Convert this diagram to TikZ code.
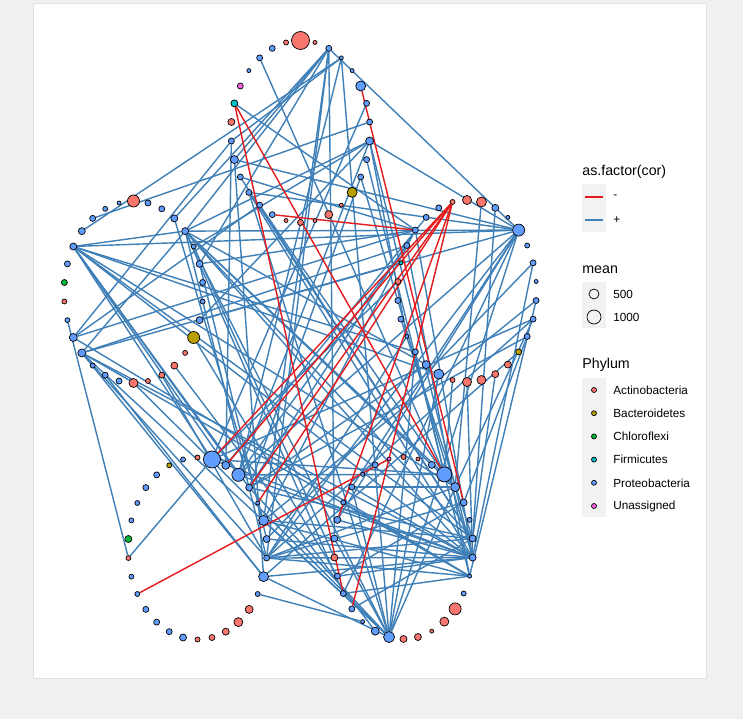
\documentclass[tikz,border=0pt]{standalone}
\usepackage{fontspec}
\setmainfont{Liberation Sans}
\usetikzlibrary{positioning}

\definecolor{colR}{HTML}{F8766D}
\definecolor{colY}{HTML}{B79F00}
\definecolor{colG}{HTML}{00BA38}
\definecolor{colT}{HTML}{00BFC4}
\definecolor{colB}{HTML}{619CFF}
\definecolor{colM}{HTML}{F564E3}
\definecolor{negline}{HTML}{E41A1C}
\definecolor{posline}{HTML}{3F80B8}
\definecolor{pagebg}{HTML}{F0F0F0}
\definecolor{keybg}{HTML}{F2F2F2}
\definecolor{panelline}{HTML}{E2E2E2}

\pgfdeclarelayer{back}
\pgfdeclarelayer{edges}
\pgfsetlayers{back,edges,main}

% one loop of 30 OTUs, k = 0 at the top, clockwise
\newcommand{\nodering}[4]{%
  \foreach \fc/\dm [count=\k from 0] in {#4}
    \node[otu, fill=col\fc, minimum size=\dm*0.02cm] (#1\k)
      at ({#2+69.5*cos(90-12*\k)},{#3-91*sin(90-12*\k)}) {};%
}

\begin{document}
\begin{tikzpicture}[x=0.02cm, y=-0.02cm,
  otu/.style={circle, draw=black, line width=0.4pt, inner sep=0pt},
  posedge/.style={draw=posline, line width=0.8pt},
  negedge/.style={draw=negline, line width=0.8pt},
  ttl/.style={font=\fontsize{8.1}{9}\selectfont, anchor=west, inner sep=0pt},
  lbl/.style={font=\fontsize{6.7}{8}\selectfont, anchor=west, inner sep=0pt}]
  \useasboundingbox (0,0) rectangle (743,719);
  \begin{pgfonlayer}{back}
    \fill[pagebg] (0,0) rectangle (743,719);
    \filldraw[fill=white, draw=panelline] (33,3) rectangle (706,678);
  \end{pgfonlayer}

  % the five loops
  \nodering{a}{300.5}{131.5}{R/18,R/4,B/6,B/4,B/4,B/10,B/6,B/6,B/8,B/6,B/6,Y/10,R/4,R/8,R/4,R/6,R/4,B/6,B/6,B/6,B/6,B/8,B/6,R/7,T/7,M/6,B/4,B/6,B/6,R/5}
  \nodering{b}{133.5}{292}{R/12,B/6,B/6,B/7,B/7,B/5,B/7,B/6,B/5,B/7,Y/12,R/5,R/7,R/6,R/5,R/9,B/6,B/6,B/5,B/8,B/8,B/5,R/5,G/6,B/6,B/7,B/7,B/6,B/5,B/4}
  \nodering{c}{467}{291}{R/9,R/10,B/7,B/4,B/12,B/5,B/6,B/4,B/6,B/6,B/6,Y/6,R/7,R/7,R/9,R/9,R/5,B/10,B/8,B/6,B/4,B/6,B/6,R/6,T/4,B/6,B/6,B/6,B/6,R/5}
  \nodering{d}{197.5}{548.5}{R/5,B/17,B/8,B/13,B/7,B/4,B/10,B/7,B/6,B/10,B/5,R/8,R/9,R/7,R/6,R/5,B/7,B/6,B/6,B/6,B/5,B/5,R/5,G/7,B/5,B/5,B/6,B/6,Y/5,B/5}
  \nodering{e}{403.5}{548}{R/5,R/4,B/7,B/15,B/9,B/7,B/5,B/7,B/7,B/4,B/5,R/12,R/9,R/4,R/7,R/7,B/11,B/8,B/4,B/6,B/6,B/6,R/7,B/7,B/7,B/5,B/6,B/4,B/6,M/4}

  \begin{pgfonlayer}{edges}
    % positive correlations
    \foreach \p/\q in {a2/b3, a2/b4, a2/b6, a2/d8, a2/d6, a2/c4, a2/a21, a2/e23,
      a3/b26, a3/a22, a3/d3, a3/e16,
      a8/b4, a8/b5, a8/c4, a8/e8, a8/d3, a8/b9, a8/c20,
      a9/e9, a10/d4, a10/c22, a19/e8, a19/e16, a19/c4, a20/e7, a20/c26,
      a21/c4, a21/d9, a22/d2, a22/b20, a18/e3, a18/e7, a27/e3, a24/c26, a7/b27, a6/d1,
      b25/c4, b25/b4, b25/d1, b25/d2, b25/d3, b25/d4, b25/c19, b25/c17, b25/e7, b25/e8, b25/e4,
      b19/b4, b19/c25, b19/c24, b19/d8, b19/e8, b19/e9, b19/d9, b19/e16,
      b21/d22, b20/a18, b20/c26, b20/e9,
      b4/c4, b4/e3, b4/e7, b4/e8, b4/e4, b4/e16, b4/d8, b4/c18, b4/e20,
      b3/d6, b5/e22, b6/d7, b6/c26, b9/c4, b10/e21, b15/e16, b13/d8, b17/d9, b12/e17,
      d22/d1, d1/c23, d1/e8, d1/c9, d2/c27,
      d3/c4, d3/c25, d3/e3, d3/e8, d4/c26, d4/c10, d4/e16, d4/e7,
      d6/e7, d6/e9, d6/c8, d6/e16, d7/e8, d7/c6,
      d8/e8, d8/e7, d8/e4, d8/e9, d8/c9, d8/e5, d8/c4,
      d9/e8, d9/e16, d9/c11, d10/e18,
      c4/e16, c4/e20, c4/e24, c4/e26, c26/e8, c26/d6,
      c15/e8, c13/e7, c10/e5, c8/e9, c9/e4, c19/e3, c17/e16, c18/d4, c22/e8,
      c21/e7, c20/d8, c25/e9, c6/e8, c2/e7, c1/e4, c16/e3,
      e16/e26, e16/e23, e16/c19, e16/e4, e3/d1,
      e8/e24, e8/e26, e8/e21, e9/e20, e9/e25, e4/e26, e5/e21, e7/e19}
      \draw[posedge] (\p) -- (\q);
    % negative correlations
    \foreach \p/\q in {a17/c26, a24/e20, a24/e3, a5/e5,
      c29/d1, c29/d2, c29/d4, c29/d5, c29/e19, c29/e24, d20/e29}
      \draw[negedge] (\p) -- (\q);
  \end{pgfonlayer}

  % legend
  \node[ttl] (cortitle) at (582,172) {as.factor(cor)};
  \fill[keybg] (582,184) rectangle (606,232);
  \draw[negedge] (585,197) -- (603,197);
  \draw[posedge] (585,220) -- (603,220);
  \node[lbl] (negtxt) at (613,197) {-};
  \node[lbl] (postxt) at (613,220) {+};

  \node[ttl] (meantitle) at (582,270) {mean};
  \fill[keybg] (582,282) rectangle (606,328);
  \node[circle, draw=black, line width=0.4pt, inner sep=0pt, minimum size=10*0.02cm] (m500) at (594,294) {};
  \node[circle, draw=black, line width=0.4pt, inner sep=0pt, minimum size=14*0.02cm] (m1000) at (594,317) {};
  \node[lbl] (t500) at (613,294) {500};
  \node[lbl] (t1000) at (613,317) {1000};

  \node[ttl] (phyltitle) at (582,365) {Phylum};
  \fill[keybg] (582,378) rectangle (606,517);
  \foreach \fc/\nm [count=\k from 0] in {R/Actinobacteria, Y/Bacteroidetes, G/Chloroflexi,
      T/Firmicutes, B/Proteobacteria, M/Unassigned}{
    \node[otu, fill=col\fc, minimum size=5*0.02cm] (key\k) at (594,{390+23.2*\k}) {};
    \node[lbl] (lab\k) at (613,{390+23.2*\k}) {\nm};
  }
\end{tikzpicture}
\end{document}
